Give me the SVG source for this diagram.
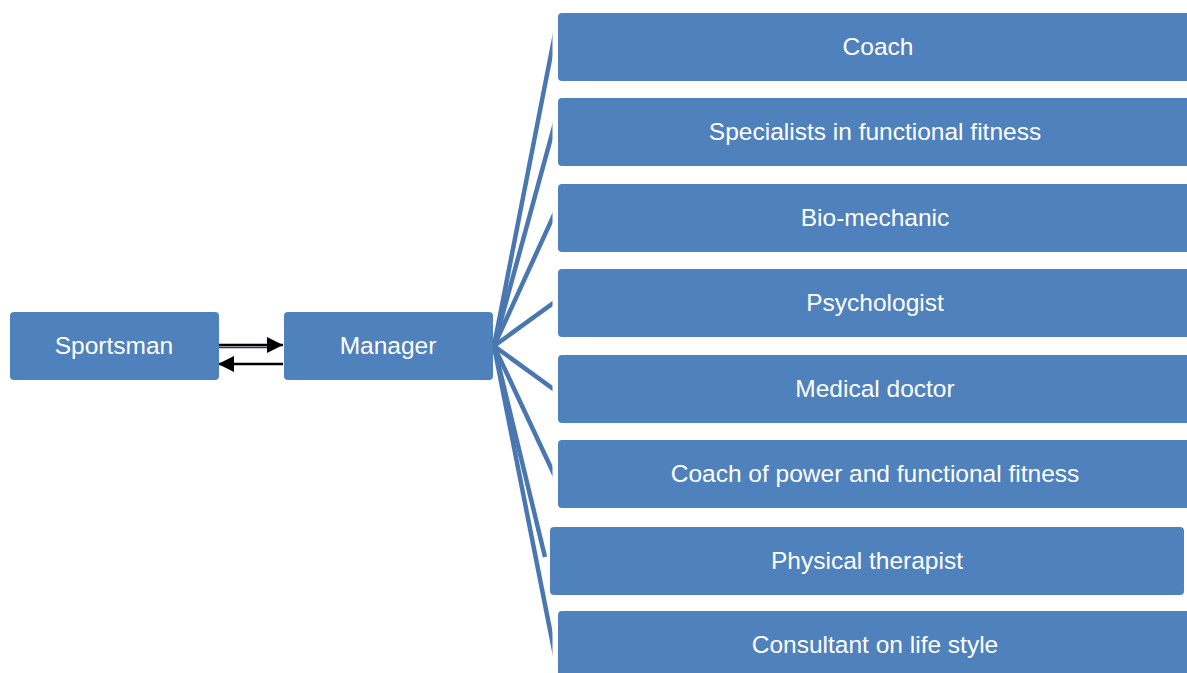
<svg xmlns="http://www.w3.org/2000/svg" width="1187" height="673" viewBox="0 0 1187 673">
<style>
.box{fill:#4f81bd;}
.lbl{fill:#ffffff;font-family:"Liberation Sans",Arial,sans-serif;font-size:24.5px;text-anchor:middle;}
.fan{stroke:#4a77b0;stroke-width:4.5;fill:none;}
.arr{stroke:#000000;stroke-width:2.5;fill:none;}
</style>
<defs>
<clipPath id="fanclip"><rect x="480" y="0" width="72.5" height="673"/></clipPath>
<marker id="ah" viewBox="0 0 10 10" refX="10" refY="5" markerWidth="6.5" markerHeight="6.5" markerUnits="strokeWidth" orient="auto">
<path d="M0,0 L10,5 L0,10 Z" fill="#000000"/>
</marker>
</defs>
<rect width="1187" height="673" fill="#ffffff"/>
<g id="connectors">
<g clip-path="url(#fanclip)">
<line class="fan" x1="494" y1="346" x2="557.8" y2="19.3"/>
<line class="fan" x1="494" y1="346" x2="557.8" y2="112.8"/>
<line class="fan" x1="494" y1="346" x2="557.8" y2="206.3"/>
<line class="fan" x1="494" y1="346" x2="557.8" y2="299.8"/>
<line class="fan" x1="494" y1="346" x2="557.8" y2="392.2"/>
<line class="fan" x1="494" y1="346" x2="557.8" y2="482.4"/>
<line class="fan" x1="494" y1="346" x2="545" y2="557"/>
<line class="fan" x1="494" y1="346" x2="557.8" y2="669.4"/>
</g>
<line x1="218" y1="347.5" x2="268" y2="347.5" stroke="#1f3864" stroke-width="1.5"/>
<line class="arr" x1="218" y1="345" x2="283" y2="345" marker-end="url(#ah)"/>
<line class="arr" x1="283" y1="364" x2="218" y2="364" marker-end="url(#ah)"/>
</g>
<g id="sportsman"><rect class="box" x="10" y="312" width="209" height="68" rx="4"/><text class="lbl" x="114" y="354">Sportsman</text></g>
<g id="manager"><rect class="box" x="284" y="312" width="209" height="68" rx="4"/><text class="lbl" x="388" y="354">Manager</text></g>
<g id="coach"><rect class="box" x="558" y="13" width="640" height="68" rx="4"/><text class="lbl" x="878" y="55">Coach</text></g>
<g id="specialists"><rect class="box" x="558" y="98" width="640" height="68" rx="4"/><text class="lbl" x="875" y="140">Specialists in functional fitness</text></g>
<g id="biomechanic"><rect class="box" x="558" y="184" width="640" height="68" rx="4"/><text class="lbl" x="875" y="226">Bio-mechanic</text></g>
<g id="psychologist"><rect class="box" x="558" y="269" width="640" height="68" rx="4"/><text class="lbl" x="875" y="311">Psychologist</text></g>
<g id="medical"><rect class="box" x="558" y="355" width="640" height="68" rx="4"/><text class="lbl" x="875" y="397">Medical doctor</text></g>
<g id="coachpower"><rect class="box" x="558" y="440" width="640" height="68" rx="4"/><text class="lbl" x="875" y="482">Coach of power and functional fitness</text></g>
<g id="therapist"><rect class="box" x="550" y="527" width="634" height="68" rx="4"/><text class="lbl" x="867" y="569">Physical therapist</text></g>
<g id="consultant"><rect class="box" x="558" y="611" width="640" height="68" rx="4"/><text class="lbl" x="875" y="653">Consultant on life style</text></g>
</svg>
